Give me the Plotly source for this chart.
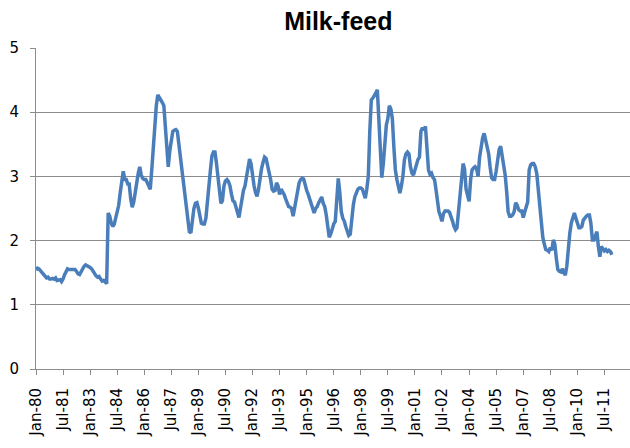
import pandas as pd
import plotly.graph_objects as go

title_text = "Milk-feed"
start_month = "1980-01-01"

# Monthly milk-feed ratio, Jan-1980 .. Dec-2011 (one list per year)
y1980 = [1.54, 1.57, 1.56, 1.53, 1.50, 1.46, 1.44, 1.42, 1.43, 1.40, 1.40, 1.41]
y1981 = [1.40, 1.42, 1.38, 1.38, 1.39, 1.36, 1.40, 1.47, 1.53, 1.56, 1.55, 1.55]
y1982 = [1.55, 1.54, 1.55, 1.52, 1.48, 1.47, 1.52, 1.58, 1.60, 1.62, 1.61, 1.60]
y1983 = [1.58, 1.56, 1.52, 1.49, 1.45, 1.43, 1.44, 1.40, 1.37, 1.38, 1.35, 1.33]
y1984 = [2.43, 2.38, 2.28, 2.22, 2.25, 2.35, 2.45, 2.55, 2.75, 2.95, 3.08, 2.95]
y1985 = [2.95, 2.88, 2.88, 2.65, 2.52, 2.60, 2.78, 2.95, 3.05, 3.15, 3.02, 2.97]
y1986 = [2.95, 2.95, 2.90, 2.86, 2.80, 3.10, 3.50, 3.85, 4.10, 4.27, 4.24, 4.19]
y1987 = [4.15, 4.10, 3.80, 3.40, 3.15, 3.40, 3.60, 3.70, 3.72, 3.73, 3.70, 3.50]
y1988 = [3.30, 3.15, 2.90, 2.70, 2.48, 2.28, 2.14, 2.12, 2.35, 2.50, 2.58, 2.59]
y1989 = [2.50, 2.40, 2.27, 2.26, 2.26, 2.35, 2.55, 2.85, 3.10, 3.32, 3.38, 3.38]
y1990 = [3.20, 2.95, 2.75, 2.58, 2.62, 2.85, 2.93, 2.95, 2.92, 2.85, 2.72, 2.62]
y1991 = [2.60, 2.52, 2.46, 2.36, 2.50, 2.68, 2.78, 2.85, 2.98, 3.10, 3.27, 3.20]
y1992 = [3.00, 2.85, 2.75, 2.69, 2.80, 2.98, 3.12, 3.22, 3.30, 3.28, 3.18, 3.05]
y1993 = [2.95, 2.80, 2.77, 2.78, 2.90, 2.85, 2.72, 2.80, 2.76, 2.72, 2.65, 2.58]
y1994 = [2.53, 2.52, 2.50, 2.38, 2.50, 2.65, 2.80, 2.90, 2.95, 2.97, 2.96, 2.84]
y1995 = [2.78, 2.72, 2.65, 2.60, 2.50, 2.43, 2.50, 2.53, 2.59, 2.64, 2.68, 2.58]
y1996 = [2.53, 2.40, 2.25, 2.05, 2.10, 2.20, 2.26, 2.30, 2.75, 2.97, 2.75, 2.45]
y1997 = [2.35, 2.30, 2.22, 2.15, 2.08, 2.10, 2.35, 2.55, 2.68, 2.75, 2.80, 2.82]
y1998 = [2.82, 2.80, 2.74, 2.66, 2.80, 3.00, 3.70, 4.19, 4.22, 4.25, 4.30, 4.35]
y1999 = [3.95, 3.55, 2.98, 3.20, 3.55, 3.80, 3.90, 4.10, 4.05, 3.90, 3.45, 3.10]
y2000 = [2.95, 2.85, 2.74, 2.85, 3.00, 3.26, 3.35, 3.38, 3.35, 3.15, 3.05, 3.02]
y2001 = [3.12, 3.20, 3.26, 3.30, 3.70, 3.76, 3.72, 3.78, 3.50, 3.10, 3.03, 3.05]
y2002 = [2.98, 2.95, 2.80, 2.60, 2.45, 2.38, 2.30, 2.42, 2.46, 2.46, 2.46, 2.44]
y2003 = [2.38, 2.30, 2.22, 2.17, 2.20, 2.50, 2.75, 2.95, 3.20, 3.12, 2.80, 2.70]
y2004 = [2.61, 2.95, 3.10, 3.13, 3.15, 3.12, 3.00, 3.30, 3.48, 3.60, 3.67, 3.57]
y2005 = [3.50, 3.35, 3.15, 2.98, 2.95, 2.95, 3.08, 3.30, 3.42, 3.47, 3.30, 3.15]
y2006 = [3.02, 2.75, 2.45, 2.38, 2.38, 2.40, 2.45, 2.59, 2.55, 2.48, 2.46, 2.46]
y2007 = [2.36, 2.45, 2.53, 2.60, 3.10, 3.18, 3.20, 3.20, 3.15, 3.05, 2.80, 2.55]
y2008 = [2.30, 2.05, 1.95, 1.86, 1.85, 1.83, 1.89, 1.85, 2.01, 1.95, 1.72, 1.55]
y2009 = [1.52, 1.51, 1.56, 1.52, 1.46, 1.60, 1.90, 2.12, 2.28, 2.35, 2.43, 2.35]
y2010 = [2.28, 2.20, 2.20, 2.22, 2.32, 2.36, 2.38, 2.40, 2.40, 2.27, 2.01, 2.01]
y2011 = [2.09, 2.14, 1.91, 1.75, 1.91, 1.88, 1.84, 1.86, 1.83, 1.85, 1.83, 1.78]

values = (y1980 + y1981 + y1982 + y1983 + y1984 + y1985 + y1986 + y1987
          + y1988 + y1989 + y1990 + y1991 + y1992 + y1993 + y1994 + y1995
          + y1996 + y1997 + y1998 + y1999 + y2000 + y2001 + y2002 + y2003
          + y2004 + y2005 + y2006 + y2007 + y2008 + y2009 + y2010 + y2011)

tick_labels = ["Jan-80", "Jul-81", "Jan-83", "Jul-84", "Jan-86", "Jul-87",
               "Jan-89", "Jul-90", "Jan-92", "Jul-93", "Jan-95", "Jul-96",
               "Jan-98", "Jul-99", "Jan-01", "Jul-02", "Jan-04", "Jul-05",
               "Jan-07", "Jul-08", "Jan-10", "Jul-11"]
y_ticks = [0, 1, 2, 3, 4, 5]

dates = pd.date_range(start_month, periods=len(values), freq="MS")
tick_dates = pd.to_datetime(tick_labels, format="%b-%y")

grid = "#8c8c8c"
fig = go.Figure()
fig.add_trace(go.Scatter(x=dates, y=values, mode="lines",
                         line=dict(color="#4a7ebb", width=3.5),
                         showlegend=False, hoverinfo="skip"))

fig.update_layout(
    width=630, height=448,
    margin=dict(l=36, r=0, t=48, b=79),
    paper_bgcolor="white", plot_bgcolor="white",
    title=dict(text="<b>" + title_text + "</b>", x=0.537, xanchor="center",
               y=0.952, yanchor="middle",
               font=dict(family="Liberation Sans", size=25, color="black")),
)
fig.update_xaxes(
    range=["1980-01-01", "2012-12-01"],
    tickmode="array", tickvals=tick_dates, ticktext=tick_labels,
    tickangle=-90, ticks="outside", ticklen=5, tickcolor=grid, tickwidth=1,
    showline=True, linecolor=grid, linewidth=1, showgrid=False, zeroline=False,
    ticklabelstandoff=7,
    tickfont=dict(family="DejaVu Sans", size=15, color="black"),
)
fig.update_yaxes(
    range=[0, 5], tickmode="array", tickvals=y_ticks,
    ticks="outside", ticklen=5, tickcolor=grid, tickwidth=1,
    showline=True, linecolor=grid, linewidth=1,
    showgrid=True, gridcolor=grid, gridwidth=1, zeroline=False,
    ticklabelstandoff=8,
    tickfont=dict(family="DejaVu Sans", size=15, color="black"),
)

fig.write_html("out.html", config={"displayModeBar": False},
               post_script="document.body.style.margin='0';")
